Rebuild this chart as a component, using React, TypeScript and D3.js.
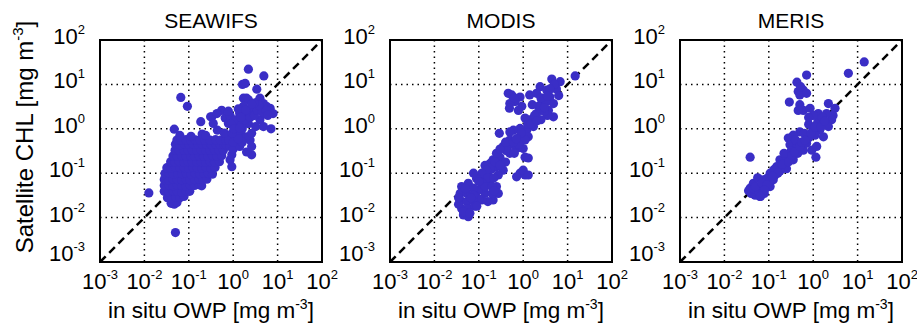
import React from "react";
import * as d3 from "d3";

// ---------- data (mg m^-3) ----------
const panelTitles = ["SEAWIFS", "MODIS", "MERIS"];
const tickExponents = [-3, -2, -1, 0, 1, 2];
const xLabel = "in situ OWP [mg m";
const yLabel = "Satellite CHL [mg m";
const unitExponent = "-3";

// SEAWIFS matchups [in situ, satellite]
const seawifs: [number, number][] = [
  [0.040, 0.021], [0.047, 0.020], [0.054, 0.022],
  [0.033, 0.028], [0.041, 0.027], [0.051, 0.029], [0.063, 0.028], [0.078, 0.030],
  [0.028, 0.039], [0.035, 0.038], [0.044, 0.040], [0.055, 0.039], [0.069, 0.037], [0.086, 0.040], [0.105, 0.039],
  [0.028, 0.053], [0.035, 0.055], [0.044, 0.052], [0.055, 0.054], [0.069, 0.053], [0.086, 0.051], [0.107, 0.054], [0.135, 0.053], [0.17, 0.055], [0.195, 0.052],
  [0.028, 0.072], [0.035, 0.070], [0.044, 0.074], [0.055, 0.072], [0.069, 0.071], [0.086, 0.073], [0.107, 0.070], [0.135, 0.072], [0.17, 0.074], [0.21, 0.071], [0.255, 0.073],
  [0.029, 0.098], [0.036, 0.100], [0.045, 0.096], [0.056, 0.099], [0.07, 0.097], [0.088, 0.1], [0.11, 0.096], [0.14, 0.099], [0.175, 0.097], [0.22, 0.1], [0.275, 0.098], [0.34, 0.095],
  [0.032, 0.133], [0.04, 0.13], [0.05, 0.136], [0.063, 0.132], [0.079, 0.134], [0.099, 0.13], [0.124, 0.135], [0.155, 0.133], [0.195, 0.131], [0.245, 0.136], [0.31, 0.132], [0.39, 0.134],
  [0.039, 0.18], [0.049, 0.177], [0.061, 0.183], [0.077, 0.179], [0.097, 0.182], [0.12, 0.178], [0.15, 0.181], [0.19, 0.18], [0.24, 0.176], [0.3, 0.183], [0.38, 0.179], [0.49, 0.181],
  [0.044, 0.245], [0.055, 0.24], [0.069, 0.25], [0.087, 0.243], [0.11, 0.247], [0.135, 0.242], [0.17, 0.248], [0.215, 0.244], [0.27, 0.241], [0.34, 0.249], [0.43, 0.244], [0.55, 0.246],
  [0.049, 0.33], [0.061, 0.325], [0.077, 0.335], [0.097, 0.328], [0.12, 0.333], [0.15, 0.327], [0.19, 0.334], [0.24, 0.329], [0.3, 0.326], [0.38, 0.335], [0.48, 0.33], [0.6, 0.328],
  [0.05, 0.45], [0.063, 0.44], [0.08, 0.455], [0.1, 0.447], [0.125, 0.452], [0.16, 0.443], [0.2, 0.456], [0.25, 0.448], [0.32, 0.441], [0.4, 0.453], [0.5, 0.446], [0.62, 0.45], [0.7, 0.44],
  [0.054, 0.56], [0.068, 0.55], [0.087, 0.57], [0.11, 0.555], [0.14, 0.565], [0.18, 0.56], [0.23, 0.55], [0.3, 0.56], [0.4, 0.57], [0.52, 0.555], [0.68, 0.56], [0.8, 0.58],
  [0.063, 0.71], [0.112, 0.68], [0.2, 0.76], [0.24, 0.71],
  [0.05, 0.0046], [0.0126, 0.036], [0.066, 5.1], [0.093, 3.2], [0.186, 1.45], [0.047, 0.98],
  [0.33, 1.86], [0.31, 1.86], [0.55, 2.6], [0.66, 1.74], [0.44, 0.93], [0.355, 1.32], [0.78, 1.32], [0.43, 2.2],
  [0.85, 2.0], [0.78, 2.5],
  [2.2, 22], [4.9, 15.5], [1.62, 10], [1.86, 10.5], [3.4, 7.8], [1.7, 4.9], [2.0, 4.9], [2.2, 4.5], [4.0, 4.9],
  [4.8, 3.7], [6.8, 2.9], [7.9, 2.2], [1.7, 3.2], [1.4, 2.2], [2.8, 2.2], [4.0, 1.6], [2.2, 1.3], [1.2, 1.12],
  [1.55, 0.72], [2.4, 0.56], [1.2, 0.51], [2.6, 0.26], [1.0, 0.66], [0.85, 0.4], [0.93, 0.26], [0.85, 0.2], [0.93, 0.14],
  [7.1, 1.0], [4.8, 1.12], [2.0, 0.3], [2.6, 0.4], [2.0, 0.66], [2.6, 0.79], [3.2, 3.2], [5.0, 2.2], [5.6, 3.2],
  [3.5, 4.0], [2.5, 2.8], [1.8, 2.0], [2.0, 1.4], [1.6, 1.0], [1.26, 0.79], [1.12, 1.6], [0.79, 0.56], [1.0, 0.35],
  [1.4, 0.4], [1.6, 0.5], [0.63, 0.8], [3.2, 1.12], [4.0, 2.8], [1.3, 2.8], [0.9, 1.26],
  [1.1, 0.6], [1.3, 0.9], [1.5, 1.2], [1.8, 1.6], [2.4, 1.8], [3.0, 2.0], [3.5, 2.6], [4.5, 2.4], [5.5, 2.6],
  [6.0, 2.0], [1.0, 0.5], [1.3, 0.6], [0.95, 0.8], [1.05, 1.0], [1.4, 1.05], [3.8, 3.4], [3.0, 3.8], [2.6, 3.6],
  [1.9, 2.6], [1.5, 1.8],
];

const modis: [number, number][] = [
  [14.8, 15.5], [4.4, 13.2], [6.8, 11.5],
  [0.55, 5.8], [0.85, 5.2], [0.66, 4.1], [0.5, 3.7], [0.93, 3.2], [0.78, 2.6], [0.46, 6.3], [0.49, 2.9], [0.63, 5.0],
  [1.4, 5.8], [2.4, 8.9], [3.4, 7.4], [2.6, 4.5], [4.0, 5.2], [4.8, 3.7], [2.8, 2.6], [2.0, 2.2], [1.4, 1.6],
  [1.1, 1.74], [1.7, 1.12], [1.2, 0.93], [0.85, 1.02], [0.6, 0.93], [0.5, 0.85], [0.29, 0.79], [0.85, 0.66],
  [1.3, 0.66], [1.1, 0.56], [3.7, 2.6], [4.8, 1.86], [5.6, 7.9], [5.0, 10], [3.2, 4.0], [2.2, 3.2], [1.8, 2.0],
  [1.26, 1.26], [3.5, 2.0], [6.3, 5.6], [2.0, 6.3], [1.6, 3.5], [4.0, 7.9], [2.5, 1.6],
  [1.5, 1.3], [2.0, 1.5], [3.0, 2.5], [3.0, 3.0], [2.5, 5.0], [3.5, 5.5], [0.9, 0.8],
  [0.355, 0.4], [0.5, 0.44], [0.71, 0.36], [1.0, 0.36], [1.1, 0.23], [1.3, 0.22], [0.5, 0.28], [0.3, 0.23],
  [0.21, 0.2], [0.18, 0.166], [0.138, 0.15], [0.25, 0.14], [0.355, 0.117], [0.275, 0.091], [0.85, 0.1],
  [1.1, 0.091], [0.71, 0.083], [1.0, 0.117], [1.3, 0.091], [0.42, 0.32], [0.63, 0.28], [0.25, 0.28],
  [0.4, 0.178], [0.2, 0.126], [0.79, 0.45], [0.5, 0.56], [0.3, 0.35], [0.4, 0.5], [0.6, 0.5], [0.7, 0.6],
  [0.13, 0.09], [0.16, 0.1], [0.18, 0.13], [0.23, 0.18], [0.3, 0.15],
  [0.15, 0.117], [0.117, 0.1], [0.089, 0.076], [0.117, 0.059], [0.178, 0.065], [0.25, 0.05], [0.275, 0.035],
  [0.21, 0.025], [0.16, 0.023], [0.138, 0.035], [0.098, 0.042], [0.076, 0.1], [0.117, 0.025], [0.2, 0.035],
  [0.158, 0.079], [0.22, 0.079], [0.085, 0.03], [0.1, 0.026], [0.12, 0.06], [0.14, 0.05], [0.2, 0.05],
  [0.22, 0.04], [0.1, 0.065],
  [0.041, 0.05], [0.058, 0.059], [0.076, 0.046], [0.038, 0.035], [0.054, 0.035], [0.076, 0.032], [0.038, 0.025],
  [0.054, 0.023], [0.076, 0.023], [0.041, 0.016], [0.058, 0.016], [0.081, 0.018], [0.045, 0.0115], [0.058, 0.0105],
  [0.035, 0.02], [0.035, 0.028], [0.05, 0.045], [0.045, 0.0135], [0.063, 0.0126], [0.066, 0.028], [0.09, 0.018],
];

const meris: [number, number][] = [
  [14.1, 32], [6.2, 17.8], [0.71, 16.2], [0.43, 11.2],
  [0.46, 6.9], [0.6, 7.4], [0.5, 5.8], [0.71, 6.3], [0.52, 8.9],
  [0.29, 4.0], [0.5, 3.5], [0.6, 2.6], [0.46, 2.6], [0.85, 2.9], [1.3, 2.2], [2.2, 3.7], [3.1, 2.9], [2.8, 2.0],
  [2.6, 1.6], [1.9, 1.3], [1.4, 0.93], [1.1, 0.72], [1.7, 0.66], [0.5, 0.85], [0.355, 0.72], [0.275, 0.62],
  [0.3, 0.44], [0.43, 0.4], [0.6, 0.33], [0.93, 0.33], [1.2, 0.4], [0.71, 0.47], [1.15, 0.23], [0.038, 0.23],
  [0.178, 0.2], [0.25, 0.23], [0.15, 0.14], [0.21, 0.15], [0.107, 0.1], [0.089, 0.076], [0.138, 0.091],
  [0.069, 0.071], [0.045, 0.059], [0.038, 0.046], [0.054, 0.042], [0.076, 0.05], [0.049, 0.032], [0.063, 0.03],
  [0.107, 0.05],
  [0.79, 1.26], [1.0, 1.0], [1.26, 1.4], [2.0, 2.2], [1.6, 1.8], [0.79, 0.63], [0.63, 0.79], [0.4, 0.56],
  [0.45, 0.28], [0.32, 0.32], [0.22, 0.28], [0.355, 0.2], [0.25, 0.126], [0.178, 0.112], [0.126, 0.071],
  [0.056, 0.079], [0.04, 0.035], [0.079, 0.035], [0.1, 0.063], [2.2, 1.12], [1.0, 2.0], [0.79, 1.8],
  [0.035, 0.04], [0.045, 0.045], [0.06, 0.038], [0.05, 0.05], [0.07, 0.06], [0.09, 0.055], [0.08, 0.042],
  [0.065, 0.03], [0.13, 0.12], [0.16, 0.1], [0.2, 0.16], [0.28, 0.18], [0.33, 0.25], [0.38, 0.3], [0.5, 0.4],
  [0.55, 0.5], [0.65, 0.55], [0.9, 0.8], [1.1, 1.1], [1.5, 1.1], [1.8, 1.5], [0.12, 0.085],
];

const panelData = [seawifs, modis, meris];

// ---------- layout ----------
const W = 917;
const H = 325;
const LEFTS = [100, 390, 680];
const TOP = 40;
const SIZE = 222;
const FONT = "'Liberation Sans', Arial, Helvetica, sans-serif";
const DOT = "#3a2ec6";

function Panel({ idx }: { idx: number }) {
  const left = LEFTS[idx];
  const x = d3.scaleLog().domain([1e-3, 1e2]).range([left, left + SIZE]);
  const y = d3.scaleLog().domain([1e-3, 1e2]).range([TOP + SIZE, TOP]);
  const ticks = tickExponents.map((e) => Math.pow(10, e));
  const inner = ticks.slice(1, -1);
  const data = panelData[idx];
  const line = d3.line<number>().x((d) => x(d)).y((d) => y(d));
  return (
    <g>
      {inner.map((t, i) => (
        <line key={"gx" + i} x1={x(t)} x2={x(t)} y1={TOP} y2={TOP + SIZE}
          stroke="#000" strokeWidth={1.5} strokeDasharray="1.5,4" />
      ))}
      {inner.map((t, i) => (
        <line key={"gy" + i} y1={y(t)} y2={y(t)} x1={left} x2={left + SIZE}
          stroke="#000" strokeWidth={1.5} strokeDasharray="1.5,4" />
      ))}
      <path d={line([1e-3, 1e2]) || ""} stroke="#000" strokeWidth={2.5} strokeDasharray="8,5" fill="none" />
      {data.map((d, i) => (
        <circle key={i} cx={x(d[0])} cy={y(d[1])} r={4.6} fill={DOT} />
      ))}
      <rect x={left} y={TOP} width={SIZE} height={SIZE} fill="none" stroke="#000" strokeWidth={2} />
      <text x={left + SIZE / 2} y={28} textAnchor="middle" fontSize={21} fontFamily={FONT}>
        {panelTitles[idx]}
      </text>
      {tickExponents.map((e, i) => (
        <text key={"tx" + i} x={x(ticks[i])} y={289} textAnchor="middle" fontSize={22} fontFamily={FONT}>
          <tspan>10</tspan>
          <tspan fontSize={13} dy={-10}>{String(e)}</tspan>
        </text>
      ))}
      {tickExponents.map((e, i) => (
        <text key={"ty" + i} x={left - 15} y={y(ticks[i]) + (i === 0 ? -1 : 4)} textAnchor="end" fontSize={22} fontFamily={FONT}>
          <tspan>10</tspan>
          <tspan fontSize={13} dy={-10}>{String(e)}</tspan>
        </text>
      ))}
      <text x={left + SIZE / 2} y={318} textAnchor="middle" fontSize={22.5} fontFamily={FONT}>
        <tspan>{xLabel}</tspan>
        <tspan fontSize={14} dy={-9}>{unitExponent}</tspan>
        <tspan dy={9}>]</tspan>
      </text>
    </g>
  );
}

export default function App() {
  return (
    <svg width={W} height={H} viewBox={`0 0 ${W} ${H}`}
      style={{ position: "fixed", left: 0, top: 0, background: "#fff" }}>
      <rect x={0} y={0} width={W} height={H} fill="#fff" />
      {[0, 1, 2].map((i) => <Panel key={i} idx={i} />)}
      <text transform="translate(33,137) rotate(-90)" textAnchor="middle" fontSize={24} fontFamily={FONT}>
        <tspan>{yLabel}</tspan>
        <tspan fontSize={15} dy={-10}>{unitExponent}</tspan>
        <tspan dy={10}>]</tspan>
      </text>
    </svg>
  );
}
